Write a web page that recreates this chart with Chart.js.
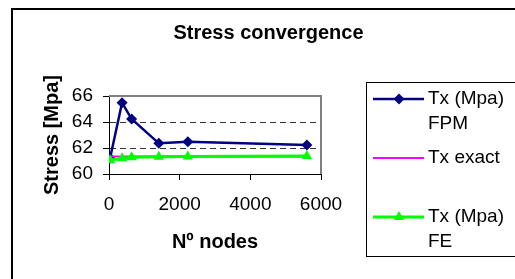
<!DOCTYPE html>
<html>
<head>
<meta charset="utf-8">
<script src="https://cdn.jsdelivr.net/npm/chart.js@4.4.0/dist/chart.umd.min.js"></script>
<style>
  html, body { margin: 0; padding: 0; background: #fff; }
  #grafico { display: block; }
</style>
</head>
<body>
<canvas id="grafico" width="515" height="279"></canvas>
<script>
/*********-datos-*********/
const NODOS = [30, 370, 640, 1410, 2230, 5600];
const TX_FPM = [61.21, 65.49, 64.23, 62.36, 62.49, 62.23];
const TX_EXACT = [61.35, 61.35, 61.35, 61.35, 61.35, 61.35];
const TX_FE = [61.05, 61.22, 61.28, 61.33, 61.35, 61.38];
const NOMBRES = [["Tx (Mpa)", "FPM"], ["Tx exact"], ["Tx (Mpa)", "FE"]];
const TICKS_X = [0, 2000, 4000, 6000];
const TICKS_Y = [60, 62, 64, 66];
//------------------------------------//

const FUENTE = "'Liberation Sans', Arial, sans-serif";

function puntos(valores) {
  return NODOS.map((n, i) => ({ x: n, y: valores[i] }));
}

/*********-marco, area del grafico y leyenda dibujados a mano-*********/
const marcoPlugin = {
  id: "marco",
  beforeDatasetsDraw(chart) {
    const ctx = chart.ctx;
    const a = chart.chartArea;
    ctx.save();
    ctx.strokeStyle = "#808080";
    ctx.lineWidth = 2;
    ctx.beginPath();
    ctx.moveTo(a.left, a.top);
    ctx.lineTo(a.right, a.top);
    ctx.lineTo(a.right, a.bottom);
    ctx.stroke();
    ctx.restore();
  },
  afterDraw(chart) {
    const ctx = chart.ctx;
    ctx.save();
    // marco exterior
    ctx.strokeStyle = "#000";
    ctx.lineWidth = 2;
    ctx.strokeRect(12, 9, 600, 400);
    // caja de la leyenda
    ctx.lineWidth = 1;
    ctx.strokeRect(366.5, 82.5, 200, 174);

    const filas = [99, 158, 217];
    chart.data.datasets.forEach((ds, i) => {
      const y = filas[i];
      ctx.strokeStyle = ds.borderColor;
      ctx.lineWidth = ds.borderWidth;
      ctx.beginPath();
      ctx.moveTo(373, y);
      ctx.lineTo(424, y);
      ctx.stroke();
      ctx.fillStyle = ds.borderColor;
      if (ds.pointStyle === "rectRot") {
        const r = ds.pointRadius;
        ctx.beginPath();
        ctx.moveTo(399 - r, y);
        ctx.lineTo(399, y - r);
        ctx.lineTo(399 + r, y);
        ctx.lineTo(399, y + r);
        ctx.closePath();
        ctx.fill();
      } else if (ds.pointStyle === "triangle") {
        const r = ds.pointRadius;
        ctx.beginPath();
        ctx.moveTo(399, y - r);
        ctx.lineTo(399 + r * 0.866, y + r / 2);
        ctx.lineTo(399 - r * 0.866, y + r / 2);
        ctx.closePath();
        ctx.fill();
      }
      ctx.fillStyle = "#000";
      ctx.font = "19px " + FUENTE;
      ctx.textBaseline = "middle";
      ctx.textAlign = "left";
      NOMBRES[i].forEach((linea, j) => {
        ctx.fillText(linea, 428, y + j * 25);
      });
    });
    ctx.restore();
  }
};
//------------------------------------//

const config = {
  type: "line",
  data: {
    datasets: [
      {
        label: NOMBRES[0].join(" "),
        data: puntos(TX_FPM),
        borderColor: "#000080",
        backgroundColor: "#000080",
        borderWidth: 2.5,
        pointStyle: "rectRot",
        pointRadius: 5.5,
        pointBorderWidth: 0,
        order: 2
      },
      {
        label: NOMBRES[1].join(" "),
        data: puntos(TX_EXACT),
        borderColor: "#ff00ff",
        backgroundColor: "#ff00ff",
        borderWidth: 2,
        pointRadius: 0,
        order: 1
      },
      {
        label: NOMBRES[2].join(" "),
        data: puntos(TX_FE),
        borderColor: "#00ff00",
        backgroundColor: "#00ff00",
        borderWidth: 3,
        pointStyle: "triangle",
        pointRadius: 6,
        pointBorderWidth: 0,
        order: 0
      }
    ]
  },
  options: {
    responsive: false,
    animation: false,
    layout: { padding: { left: 22, right: 0, top: 0, bottom: 20 } },
    plugins: {
      legend: { display: false },
      tooltip: { enabled: false },
      title: {
        display: true,
        text: "Stress convergence",
        color: "#000",
        font: { family: FUENTE, size: 20, weight: "bold" },
        padding: { top: 21, bottom: 51 }
      }
    },
    scales: {
      x: {
        type: "linear",
        min: 0,
        max: 6000,
        afterBuildTicks: (s) => { s.ticks = TICKS_X.map(v => ({ value: v })); },
        afterFit: (s) => { s.height = 85; },
        ticks: {
          color: "#000",
          padding: 13,
          maxRotation: 0,
          callback: (v) => String(v),
          font: { family: FUENTE, size: 19 }
        },
        grid: {
          drawOnChartArea: false,
          tickLength: 6,
          tickColor: "#000"
        },
        border: { color: "#000", width: 1 },
        title: {
          display: true,
          text: "Nº nodes",
          color: "#000",
          font: { family: FUENTE, size: 20, weight: "bold" },
          padding: { top: 0, bottom: 5 }
        }
      },
      y: {
        min: 60,
        max: 66,
        afterBuildTicks: (s) => { s.ticks = TICKS_Y.map(v => ({ value: v })); },
        afterFit: (s) => { s.width = 87; },
        ticks: {
          color: "#000",
          padding: 10,
          font: { family: FUENTE, size: 19 }
        },
        grid: {
          color: (c) => (c.tick && (c.tick.value === 62 || c.tick.value === 64)) ? "#333" : "rgba(0,0,0,0)",
          tickLength: 6,
          tickColor: "#000"
        },
        border: { color: "#000", width: 1, dash: [6, 4] },
        title: {
          display: true,
          text: "Stress [Mpa]",
          color: "#000",
          font: { family: FUENTE, size: 20, weight: "bold" },
          padding: { top: 18, bottom: 0 }
        }
      },
      // eje invisible, solo deja el hueco de la leyenda
      derecha: {
        position: "right",
        display: true,
        afterFit: (s) => { s.width = 194; },
        ticks: { display: false },
        grid: { display: false },
        border: { display: false }
      }
    }
  },
  plugins: [marcoPlugin]
};

const GRAFICO = document.getElementById("grafico").getContext("2d");
new Chart(GRAFICO, config);
</script>
</body>
</html>
